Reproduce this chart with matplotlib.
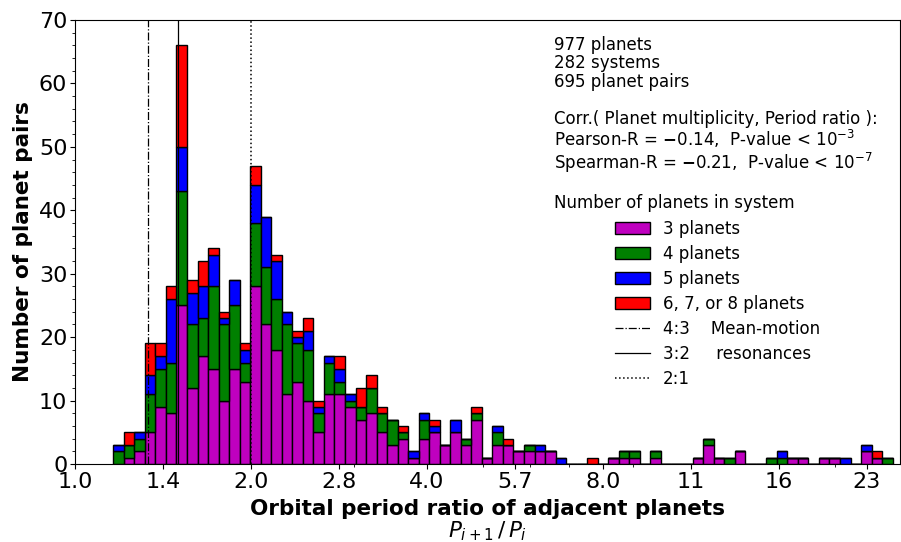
import numpy as np
import matplotlib
matplotlib.use('Agg')
import matplotlib.pyplot as plt
from matplotlib.patches import Patch
from matplotlib.lines import Line2D

# histogram bins (log spaced period ratio)
ratio_lo = 1.163
ratio_hi = 25.07
n_bins = 74

# pairs per bin, split by number of planets in the system
three = [0, 1, 2, 5, 9, 8, 25, 12, 17, 15,
         10, 15, 13, 28, 22, 18, 11, 13, 10, 5,
         11, 11, 9, 7, 8, 5, 3, 4, 1, 4,
         5, 3, 5, 3, 7, 1, 3, 3, 2, 2,
         2, 2, 0, 0, 0, 0, 0, 1, 1, 1,
         0, 1, 0, 0, 0, 1, 3, 1, 0, 2,
         0, 0, 0, 0, 1, 1, 0, 1, 1, 0,
         0, 2, 1, 0]
four = [2, 2, 2, 6, 6, 8, 18, 10, 6, 13,
        12, 10, 3, 10, 9, 8, 11, 6, 8, 3,
        5, 2, 1, 2, 4, 3, 4, 1, 0, 3,
        0, 0, 0, 1, 1, 0, 2, 0, 0, 1,
        0, 0, 0, 0, 0, 0, 0, 0, 1, 1,
        0, 1, 0, 0, 0, 0, 1, 0, 1, 0,
        0, 0, 1, 1, 0, 0, 0, 0, 0, 0,
        0, 0, 0, 1]
five = [1, 0, 1, 3, 2, 10, 7, 5, 5, 5,
        1, 4, 2, 6, 8, 6, 2, 1, 3, 1,
        1, 2, 1, 0, 0, 0, 0, 0, 1, 1,
        1, 0, 2, 0, 0, 0, 1, 0, 0, 0,
        1, 0, 1, 0, 0, 0, 0, 0, 0, 0,
        0, 0, 0, 0, 0, 0, 0, 0, 0, 0,
        0, 0, 0, 1, 0, 0, 0, 0, 0, 1,
        0, 1, 0, 0]
six_plus = [0, 2, 0, 5, 2, 2, 16, 2, 4, 1,
            1, 0, 1, 3, 0, 1, 0, 1, 2, 1,
            0, 2, 0, 3, 2, 1, 0, 1, 0, 0,
            1, 0, 0, 0, 1, 0, 0, 1, 0, 0,
            0, 0, 0, 0, 0, 1, 0, 0, 0, 0,
            0, 0, 0, 0, 0, 0, 0, 0, 0, 0,
            0, 0, 0, 0, 0, 0, 0, 0, 0, 0,
            0, 0, 1, 0]

series = [three, four, five, six_plus]
colors = ['m', 'g', 'b', 'r']
labels = ['3 planets', '4 planets', '5 planets', '6, 7, or 8 planets']

tick_vals = [1.0, 2**0.5, 2.0, 2**1.5, 4.0, 2**2.5, 8.0, 2**3.5, 16.0, 2**4.5]
tick_labels = ['1.0', '1.4', '2.0', '2.8', '4.0', '5.7', '8.0', '11', '16', '23']

edges = np.logspace(np.log10(ratio_lo), np.log10(ratio_hi), n_bins + 1)

fig = plt.figure(figsize=(9.01, 5.42), dpi=100)
ax = fig.add_axes([0.0832, 0.1439, 0.9156, 0.8192])

bottom = np.zeros(n_bins)
for vals, c in zip(series, colors):
    vals = np.array(vals)
    ax.bar(edges[:-1], vals, width=np.diff(edges), bottom=bottom, align='edge',
           color=c, edgecolor='k', linewidth=1)
    bottom += vals

ax.axvline(4/3, color='k', ls='-.', lw=0.9, zorder=3)
ax.axvline(3/2, color='k', ls='-', lw=0.9, zorder=3)
ax.axvline(2.0, color='k', ls=':', lw=1.1, zorder=3)

ax.set_xscale('log')
ax.set_xlim(1.0, 25.8)
ax.set_xticks(tick_vals)
ax.set_xticklabels(tick_labels)
ax.set_ylim(0, 70)
ax.set_yticks(np.arange(0, 71, 10))
ax.set_yticks(np.arange(0, 71, 2), minor=True)
ax.tick_params(labelsize=16, pad=2)

ax.set_ylabel('Number of planet pairs', fontsize=15.5, fontweight='bold', labelpad=4)
ax.set_xlabel('Orbital period ratio of adjacent planets\n$P_{i+1}\\,/\\,P_i$',
              fontsize=15.5, fontweight='bold', labelpad=5, linespacing=1.05)

info = ('977 planets\n282 systems\n695 planet pairs\n\n'
        'Corr.( Planet multiplicity, Period ratio ):\n'
        'Pearson-R = $\\mathbf{-}$0.14,  P-value < $10^{-3}$\n'
        'Spearman-R = $\\mathbf{-}$0.21,  P-value < $10^{-7}$\n\n'
        'Number of planets in system')
ax.text(0.5806, 0.964, info, transform=ax.transAxes, va='top', ha='left',
        fontsize=12, linespacing=1.03)

handles = [Patch(facecolor=c, edgecolor='k') for c in colors]
handles += [Line2D([], [], color='k', ls='-.', lw=0.9),
            Line2D([], [], color='k', ls='-', lw=0.9),
            Line2D([], [], color='k', ls=':', lw=1.1)]
leg_labels = labels + ['4:3    Mean-motion', '3:2     resonances', '2:1']
ax.legend(handles, leg_labels, loc='upper left', bbox_to_anchor=(0.646, 0.565),
          frameon=False, fontsize=12, labelspacing=0.42, handlelength=2.1,
          borderaxespad=0)

fig.savefig('out.png', dpi=100)
